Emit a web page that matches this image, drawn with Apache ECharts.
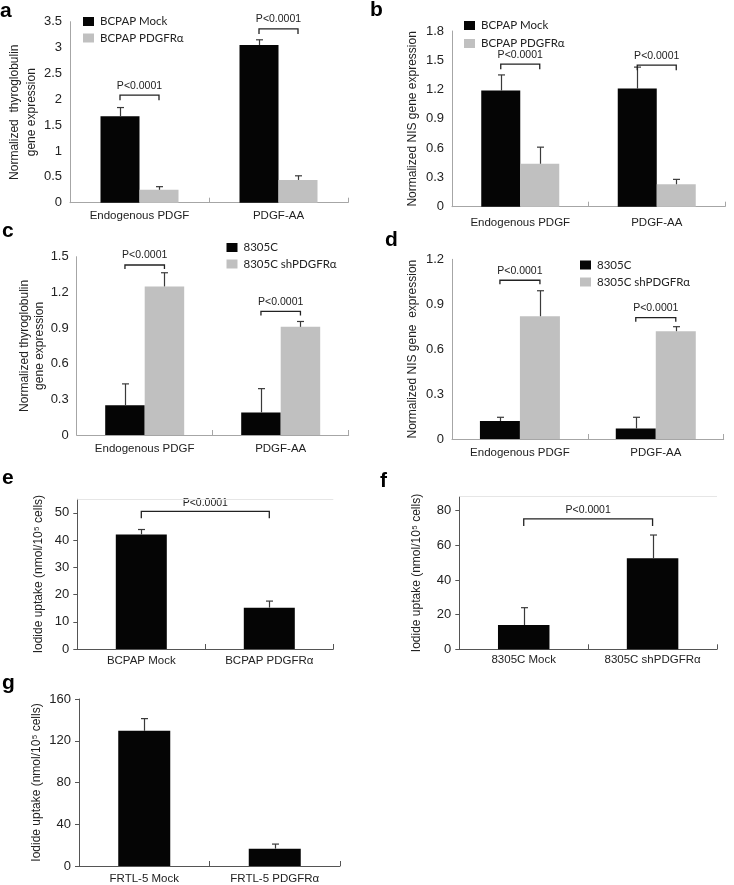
<!DOCTYPE html>
<html><head><meta charset="utf-8">
<script src="https://cdn.jsdelivr.net/npm/echarts@6/dist/echarts.min.js"></script>
<style>html,body{margin:0;padding:0;background:#fff}#c{width:734px;height:885px}</style>
</head><body><div id="c"></div>
<script>
// ---------- data ----------
const catsExpr = ['Endogenous PDGF', 'PDGF-AA'];
// panel a: thyroglobulin, BCPAP
const aMock = [1.67, 3.05], aMockSd = [0.17, 0.10];
const aPdgfr = [0.25, 0.44], aPdgfrSd = [0.06, 0.08];
const aBracket = [2.08, 3.36];
// panel b: NIS, BCPAP
const bMock = [1.19, 1.21], bMockSd = [0.16, 0.22];
const bPdgfr = [0.44, 0.23], bPdgfrSd = [0.17, 0.05];
const bBracket = [1.46, 1.45];
// panel c: thyroglobulin, 8305C
const c8305 = [0.25, 0.19], c8305Sd = [0.18, 0.20];
const cSh = [1.25, 0.91], cShSd = [0.115, 0.045];
const cBracket = [1.43, 1.04];
// panel d: NIS, 8305C
const d8305 = [0.12, 0.07], d8305Sd = [0.025, 0.075];
const dSh = [0.82, 0.72], dShSd = [0.17, 0.03];
const dBracket = [1.06, 0.81];
// panel e: iodide uptake BCPAP
const eCats = ['BCPAP Mock', 'BCPAP PDGFRα'];
const eVals = [42.1, 15.2], eSd = [1.8, 2.4];
const eBracket = 50.6;
const eTicks = [0, 10, 20, 30, 40, 50];
// panel f: iodide uptake 8305C
const fCats = ['8305C Mock', '8305C shPDGFRα'];
const fVals = [14.0, 52.5], fSd = [10.0, 13.4];
const fBracket = 75.2;
const fTicks = [0, 20, 40, 60, 80];
// panel g: iodide uptake FRTL-5
const gCats = ['FRTL-5 Mock', 'FRTL-5 PDGFRα'];
const gVals = [129.5, 16.6], gSd = [11.7, 4.4];
const pText = 'P<0.0001';

// ---------- helpers ----------
const FONT = 'Liberation Sans, Arial, sans-serif';
const BLACK = '#050505', GRAY = '#c0c0c0';

function barS(name, data, gi, color, w) {
  return {type: 'bar', name, data, xAxisIndex: gi, yAxisIndex: gi, barWidth: w, barGap: '0%',
    itemStyle: {color}, silent: true, z: 2};
}
function errS(gi, means, sds, off) {
  return {type: 'custom', xAxisIndex: gi, yAxisIndex: gi, silent: true, z: 3,
    data: means.map((m, i) => [i, m, sds[i]]),
    renderItem(params, api) {
      const p0 = api.coord([api.value(0), api.value(1)]);
      const p1 = api.coord([api.value(0), api.value(1) + api.value(2)]);
      const cx = Math.round(p0[0] + off) + 0.5;
      const st = {stroke: '#3a3a3a', lineWidth: 1.2};
      return {type: 'group', children: [
        {type: 'line', shape: {x1: cx, y1: p0[1], x2: cx, y2: p1[1]}, style: st},
        {type: 'line', shape: {x1: cx - 3.5, y1: p1[1], x2: cx + 3.5, y2: p1[1]}, style: st}
      ]};
    }};
}
// grouped bracket: spans the two bar centres of one category
function bracketGroupS(gi, levels, w, drop) {
  return {type: 'custom', xAxisIndex: gi, yAxisIndex: gi, silent: true, z: 4,
    data: levels.map((y, i) => [i, y]),
    renderItem(params, api) {
      const p = api.coord([api.value(0), api.value(1)]);
      return bracketShape(p[0] - w / 2, p[0] + w / 2, p[1], drop, 4);
    }};
}
// single-series bracket: spans category 0 to category 1
function bracketSpanS(gi, level, drop) {
  return {type: 'custom', xAxisIndex: gi, yAxisIndex: gi, silent: true, z: 4,
    data: [[0, level]],
    renderItem(params, api) {
      const p0 = api.coord([0, api.value(1)]);
      const p1 = api.coord([1, api.value(1)]);
      return bracketShape(p0[0], p1[0], p0[1], drop, 3);
    }};
}
function bracketShape(x0, x1, y, drop, tgap) {
  const st = {stroke: '#222', lineWidth: 1.3, fill: null};
  return {type: 'group', children: [
    {type: 'polyline', shape: {points: [[x0, y + drop], [x0, y], [x1, y], [x1, y + drop]]}, style: st},
    {type: 'text', style: {text: pText, x: (x0 + x1) / 2, y: y - tgap, align: 'center', verticalAlign: 'bottom',
      fontSize: 10.5, fontFamily: FONT, fill: '#222'}}
  ]};
}
function xAx(gi, cats, opt) {
  return {type: 'category', gridIndex: gi, data: cats,
    axisLine: {lineStyle: {color: opt.lineColor, width: 1}},
    axisTick: {show: true, inside: true, length: 5, alignWithLabel: false, lineStyle: {color: opt.lineColor}},
    axisLabel: {fontSize: 11.5, color: '#222', fontFamily: FONT, margin: opt.margin, interval: 0},
    splitLine: {show: false}};
}
function yAx(gi, min, max, interval, name, nameGap, lineColor, ticks, extra) {
  const o = {type: 'value', gridIndex: gi, min, max, interval,
    axisLine: {show: true, lineStyle: {color: lineColor, width: 1}},
    axisTick: {show: ticks, length: 4, lineStyle: {color: lineColor}},
    axisLabel: {fontSize: 13, color: '#222', fontFamily: FONT, margin: 8},
    splitLine: {show: false},
    name, nameLocation: 'middle', nameRotate: 90, nameGap,
    nameTextStyle: {fontSize: 12, color: '#222', fontFamily: FONT, lineHeight: 17}};
  return Object.assign(o, extra || {});
}
function legendAt(left, top, names, gap) {
  return {left, top, orient: 'vertical', itemWidth: 11, itemHeight: 9, itemGap: gap, padding: 0,
    icon: 'rect', data: names, selectedMode: false,
    textStyle: {fontSize: 11.5, color: '#222', fontFamily: 'Lato, sans-serif', padding: [0, 0, 0, 1]}};
}
const letter = (t, left, top) => ({text: t, left, top, padding: 0,
  textStyle: {fontSize: 21, fontWeight: 'bold', color: '#000', fontFamily: FONT}});

const LA = '#a6a6a6', LE = '#555';
const topLine = (v) => ({silent: true, symbol: 'none', label: {show: false},
  lineStyle: {color: '#e6e6e6', type: 'solid', width: 1}, data: [{yAxis: v}]});

const option = {
  animation: false,
  backgroundColor: '#fff',
  title: [letter('a', 0, 1), letter('b', 370, 0), letter('c', 2, 221), letter('d', 385, 230),
          letter('e', 2, 468), letter('f', 380, 471), letter('g', 2, 673)],
  legend: [legendAt(83, 15.5, ['BCPAP Mock', 'BCPAP PDGFRα'], 4.5),
           legendAt(464, 19.5, ['BCPAP Mock', 'BCPAP PDGFRα'], 6),
           legendAt(226.5, 241.5, ['8305C', '8305C shPDGFRα'], 4.5),
           legendAt(580, 259, ['8305C', '8305C shPDGFRα'], 5)],
  grid: [
    {left: 70, top: 21.7, width: 278, height: 181},
    {left: 452, top: 31, width: 273, height: 175.7},
    {left: 76.7, top: 256.7, width: 272, height: 178.3},
    {left: 452, top: 259.3, width: 271.7, height: 179.7},
    {left: 77.3, top: 499.3, width: 256, height: 149.7},
    {left: 459.3, top: 496.7, width: 257.7, height: 152.6},
    {left: 79, top: 699, width: 261, height: 167.7}
  ],
  xAxis: [
    xAx(0, catsExpr, {lineColor: LA, margin: 7}),
    xAx(1, catsExpr, {lineColor: LA, margin: 10}),
    xAx(2, catsExpr, {lineColor: LA, margin: 8}),
    xAx(3, catsExpr, {lineColor: LA, margin: 8}),
    xAx(4, eCats, {lineColor: LE, margin: 6}),
    xAx(5, fCats, {lineColor: LE, margin: 5}),
    xAx(6, gCats, {lineColor: LE, margin: 7})
  ],
  yAxis: [
    yAx(0, 0, 3.5, 0.5, 'Normalized  thyroglobulin\ngene expression', 22, LA, false),
    yAx(1, 0, 1.8, 0.3, 'Normalized NIS gene expression', 31, LA, false),
    yAx(2, 0, 1.5, 0.3, 'Normalized thyroglobulin\ngene expression', 30, LA, false,
        {nameTextStyle: {fontSize: 12, color: '#222', fontFamily: FONT, lineHeight: 15}}),
    yAx(3, 0, 1.2, 0.3, 'Normalized NIS gene  expression', 31, LA, false),
    yAx(4, 0, 55, 10, 'Iodide uptake (nmol/10⁵ cells)', 30, LE, true,
        {axisLabel: {fontSize: 13, color: '#222', fontFamily: FONT, margin: 8, customValues: eTicks},
         axisTick: {show: true, length: 4, lineStyle: {color: LE}, customValues: eTicks}}),
    yAx(5, 0, 88, 20, 'Iodide uptake (nmol/10⁵ cells)', 34.5, LE, true,
        {axisLabel: {fontSize: 13, color: '#222', fontFamily: FONT, margin: 8, customValues: fTicks},
         axisTick: {show: true, length: 4, lineStyle: {color: LE}, customValues: fTicks}}),
    yAx(6, 0, 160, 40, 'Iodide uptake (nmol/10⁵ cells)', 31.5, LE, true)
  ],
  series: [
    // a
    barS('BCPAP Mock', aMock, 0, BLACK, 39), barS('BCPAP PDGFRα', aPdgfr, 0, GRAY, 39),
    errS(0, aMock, aMockSd, -19.5), errS(0, aPdgfr, aPdgfrSd, 19.5), bracketGroupS(0, aBracket, 39, 5),
    // b
    barS('BCPAP Mock', bMock, 1, BLACK, 39), barS('BCPAP PDGFRα', bPdgfr, 1, GRAY, 39),
    errS(1, bMock, bMockSd, -19.5), errS(1, bPdgfr, bPdgfrSd, 19.5), bracketGroupS(1, bBracket, 39, 5),
    // c
    barS('8305C', c8305, 2, BLACK, 39.5), barS('8305C shPDGFRα', cSh, 2, GRAY, 39.5),
    errS(2, c8305, c8305Sd, -19.75), errS(2, cSh, cShSd, 19.75), bracketGroupS(2, cBracket, 39.5, 4),
    // d
    barS('8305C', d8305, 3, BLACK, 40), barS('8305C shPDGFRα', dSh, 3, GRAY, 40),
    errS(3, d8305, d8305Sd, -20), errS(3, dSh, dShSd, 20), bracketGroupS(3, dBracket, 40, 4),
    // e
    Object.assign(barS('e', eVals, 4, BLACK, 51), {markLine: topLine(55)}),
    errS(4, eVals, eSd, 0), bracketSpanS(4, eBracket, 7),
    // f
    Object.assign(barS('f', fVals, 5, BLACK, 51.5), {markLine: topLine(88)}),
    errS(5, fVals, fSd, 0), bracketSpanS(5, fBracket, 7),
    // g
    barS('g', gVals, 6, BLACK, 52), errS(6, gVals, gSd, 0)
  ]
};
const chart = echarts.init(document.getElementById('c'), null, {renderer: 'canvas'});
chart.setOption(option);
</script>
</body></html>
